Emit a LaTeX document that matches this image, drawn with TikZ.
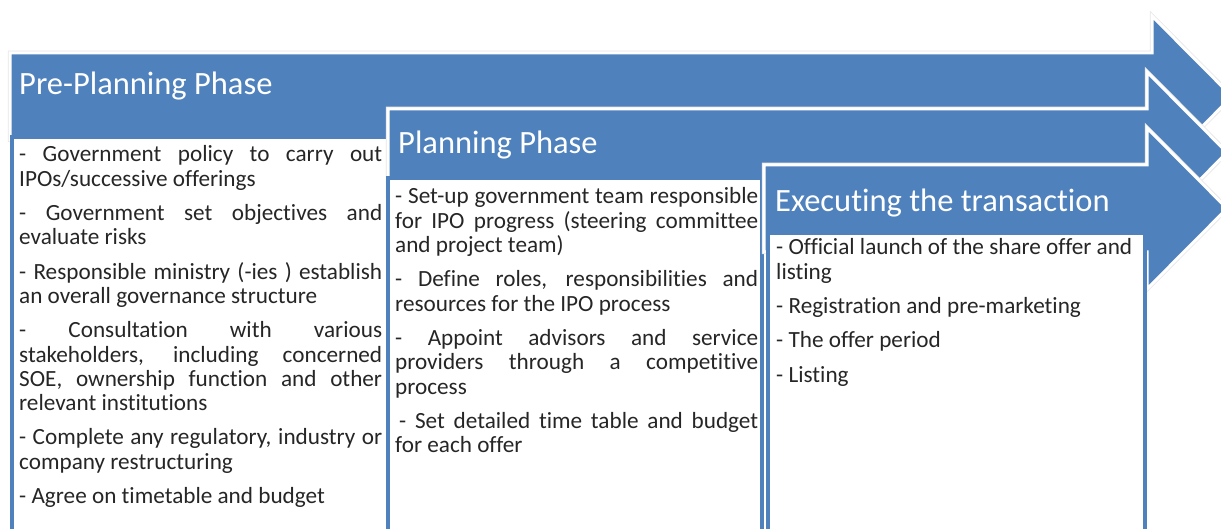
\documentclass[tikz,border=0pt]{standalone}
\usepackage{fontspec}
\setmainfont{Carlito}[Ligatures=NoCommon]
\usetikzlibrary{positioning}
\definecolor{phaseblue}{HTML}{4F81BD}
\definecolor{bodytext}{HTML}{262626}
\begin{document}
\begin{tikzpicture}[x=1pt,y=-1pt,
  phasearrow/.style={fill=phaseblue,draw=white,line width=3pt,line join=miter,
    preaction={draw=black!10,line width=4.5pt}},
  textbox/.style={fill=white,draw=phaseblue,line width=4pt},
  title/.style={anchor=base west,inner sep=0pt,text=white,font=\fontsize{32.5}{36}\selectfont},
  items/.style={anchor=base west,inner sep=0pt,text width=363pt,align=justify,
    text=bodytext,font=\fontsize{23.2}{24.3}\selectfont,
    execute at begin node={\setlength{\parskip}{10pt}\tolerance=10000\hbadness=10000\hyphenpenalty=10000}}]
   \useasboundingbox (0,0) rectangle (1221,529);
   \clip (0,0) rectangle (1221,529);
   % three stacked phase arrows, each with its text box
   \draw[phasearrow] (10,53) -- (1152,53) -- (1152,16) -- (1232,96.5) -- (1152,177) -- (1152,140) -- (10,140) -- cycle;
   \draw[textbox] (12,137) rectangle (388,545);
   \draw[phasearrow] (388,109) -- (1147,109) -- (1147,72) -- (1227,152.5) -- (1147,233) -- (1147,196) -- (388,196) -- cycle;
   \draw[textbox] (388,178) rectangle (762,545);
   \draw[phasearrow] (764,165) -- (1147,165) -- (1147,128) -- (1227,208.5) -- (1147,289) -- (1147,252) -- (764,252) -- cycle;
   \draw[textbox] (768,233) rectangle (1145,545);
   % titles
   \node[title] (pre_title) at (19,95) {Pre-Planning Phase};
   \node[title] (plan_title) at (398,154) {Planning Phase};
   \node[title] (exec_title) at (775,212) {Executing the transaction};
   % items
   \node[items] (pre_items) at (19,162) {- Government policy to carry out\linebreak IPOs/successive offerings\par
     - Government set objectives and\linebreak evaluate risks\par
     - Responsible ministry (-ies ) establish\linebreak an overall governance structure\par
     - Consultation with various\linebreak stakeholders, including concerned\linebreak SOE, ownership function and other\linebreak relevant institutions\par
     - Complete any regulatory, industry or\linebreak company restructuring\par
     - Agree on timetable and budget};
   \node[items] (plan_items) at (395,204) {- Set-up government team responsible\linebreak for IPO progress (steering committee\linebreak and project team)\par
     - Define roles, responsibilities and\linebreak resources for the IPO process\par
     - Appoint advisors and service\linebreak providers through a competitive\linebreak process\par
     \hspace*{4pt}- Set detailed time table and budget\linebreak for each offer};
   \node[items] (exec_items) at (776,255) {- Official launch of the share offer and\newline listing\par
     - Registration and pre-marketing\par
     - The offer period\par
     - Listing};
\end{tikzpicture}
\end{document}
